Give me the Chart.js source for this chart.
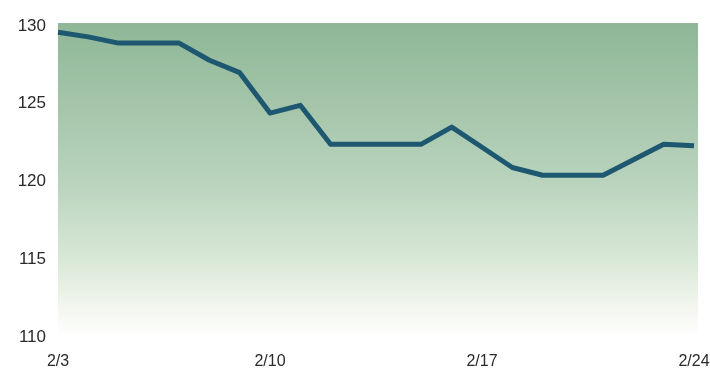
<!DOCTYPE html>
<html>
<head>
<meta charset="utf-8">
<script src="https://cdn.jsdelivr.net/npm/chart.js@4"></script>
<style>
  html, body { margin: 0; padding: 0; background: #fff; }
  #wrap { width: 710px; height: 376px; }
</style>
</head>
<body>
<div id="wrap"><canvas id="chart" width="710" height="376"></canvas></div>
<script>
// daily values 2/3 .. 2/24
const days = [];
for (let d = 3; d <= 24; d++) days.push("2/" + d);
const values = [129.6, 129.3, 128.9, 128.9, 128.9, 127.8, 127.0, 124.4, 124.9, 122.4, 122.4,
  122.4, 122.4, 123.5, 122.2, 120.9, 120.4, 120.4, 120.4, 121.4, 122.4, 122.3];
const shownLabels = ["2/3", "2/10", "2/17", "2/24"];
const yTicks = [110, 115, 120, 125, 130];

// green fade behind the plot area
const bgPlugin = {
  id: "bg",
  beforeDatasetsDraw(chart) {
    const { ctx, chartArea: a } = chart;
    const g = ctx.createLinearGradient(0, a.top, 0, a.bottom);
    g.addColorStop(0, "#8fb797");
    g.addColorStop(0.5, "#b9d3bd");
    g.addColorStop(0.75, "#d8e8d6");
    g.addColorStop(0.9, "#f2f6ee");
    g.addColorStop(1, "#ffffff");
    ctx.save();
    ctx.fillStyle = g;
    ctx.fillRect(a.left, a.top - 3, a.right - a.left + 4, a.bottom - a.top + 3);
    ctx.restore();
  }
};

new Chart(document.getElementById("chart"), {
  type: "line",
  data: {
    labels: days,
    datasets: [{
      data: values,
      borderColor: "#1e5870",
      borderWidth: 5,
      pointRadius: 0,
      tension: 0,
      borderJoinStyle: "round"
    }]
  },
  options: {
    responsive: false,
    animation: false,
    layout: { padding: { top: 26, right: 16, left: 0, bottom: 0 } },
    plugins: { legend: { display: false }, tooltip: { enabled: false } },
    scales: {
      x: {
        grid: { display: false, drawTicks: false },
        border: { display: false },
        ticks: {
          autoSkip: false,
          maxRotation: 0,
          padding: 15,
          color: "#2a2a2a",
          font: { family: "Liberation Sans", size: 16 },
          callback: function (v, i) {
            const l = days[i];
            return shownLabels.includes(l) ? l : "";
          }
        },
        afterFit(s) { s.height = 39; s.paddingRight = 0; s.paddingLeft = 0; }
      },
      y: {
        min: 110,
        max: 130,
        grid: { display: false, drawTicks: false },
        border: { display: false },
        afterBuildTicks(s) { s.ticks = yTicks.map(v => ({ value: v })); },
        ticks: {
          color: "#2a2a2a",
          padding: 12,
          font: { family: "Liberation Sans", size: 17 }
        },
        afterFit(s) { s.width = 58; }
      }
    }
  },
  plugins: [bgPlugin]
});
</script>
</body>
</html>
